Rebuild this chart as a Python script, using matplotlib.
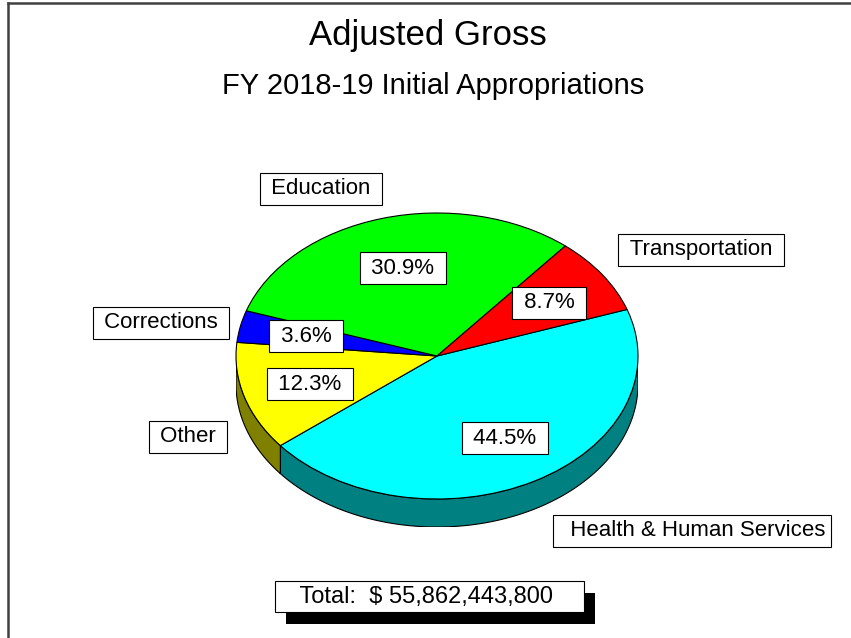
import numpy as np
import matplotlib
matplotlib.use("Agg")
import matplotlib.pyplot as plt
from matplotlib.patches import Rectangle

plt.rcParams['font.family'] = ['Liberation Sans', 'DejaVu Sans']

# data
categories = ['Health & Human Services', 'Other', 'Corrections', 'Education', 'Transportation']
shares = [44.5, 12.3, 3.6, 30.9, 8.7]
top_colors = ['#00FFFF', '#FFFF00', '#0000FF', '#00FF00', '#FF0000']
side_colors = ['#008080', '#808000', '#000080', '#008000', '#800000']
total = 55862443800

W, H = 851, 638
fig = plt.figure(figsize=(W / 100, H / 100), dpi=100)

# pie geometry in pixels (top ellipse bbox + depth)
px_left, px_right, px_top, px_bot = 236, 638, 213, 499
depth_px = 28
ry = (px_bot - px_top) / 2
d = depth_px / ry

axp = fig.add_axes([px_left / W, (H - px_bot - depth_px) / H,
                    (px_right - px_left) / W, (px_bot + depth_px - px_top) / H])
wedges, _ = axp.pie(shares, colors=top_colors, startangle=19, counterclock=False,
                    radius=1, center=(0, 0),
                    wedgeprops=dict(edgecolor='black', linewidth=0.8))
for w in wedges:
    w.set_zorder(3)

# side walls: only the front half (sin < 0) is visible
for w, sc in zip(wedges, side_colors):
    for lo, hi in [(-540, -360), (-180, 0), (180, 360)]:
        a, b = max(w.theta1, lo), min(w.theta2, hi)
        if b <= a:
            continue
        t = np.radians(np.linspace(a, b, 120))
        xs = np.concatenate([np.cos(t), np.cos(t[::-1])])
        ys = np.concatenate([np.sin(t), np.sin(t[::-1]) - d])
        axp.fill(xs, ys, facecolor=sc, edgecolor='black', linewidth=0.8, zorder=2)

axp.set_aspect('auto')
axp.set_xlim(-1, 1)
axp.set_ylim(-1 - d, 1)
axp.axis('off')

# overlay for text, in pixel coordinates
ax0 = fig.add_axes([0, 0, 1, 1])
ax0.set_xlim(0, W)
ax0.set_ylim(H, 0)
ax0.axis('off')

ax0.plot([7.5, 7.5], [2.5, H], color='#404040', lw=1.8, clip_on=False)
ax0.plot([7.5, W], [2.5, 2.5], color='#404040', lw=1.8, clip_on=False)

ax0.text(428, 35, 'Adjusted Gross', fontsize=25, ha='center', va='center')
ax0.text(433, 86, 'FY 2018-19 Initial Appropriations', fontsize=21, ha='center', va='center')

box = dict(boxstyle='square,pad=0.25', fc='white', ec='black', lw=0.8)

pct_pos = [(505, 438), (310, 384), (306, 336), (403, 268), (549, 303)]
for s, (x, y) in zip(shares, pct_pos):
    ax0.text(x, y, f' {s:.1f}% ', fontsize=16, ha='center', va='center', bbox=box)

cat_pos = [(692, 531), (188, 437), (161, 323), (321, 189), (701, 250)]
for c, (x, y) in zip(categories, cat_pos):
    lab = '  ' + c if c.startswith('Health') else ' ' + c + ' '
    ax0.text(x, y, lab, fontsize=16, ha='center', va='center', bbox=box)

# total box with a drop shadow
total_txt = '   Total:  $ {:,}    '.format(total)
tt = ax0.text(429.5, 596.5, total_txt, fontsize=17, ha='center', va='center', zorder=5,
              bbox=dict(boxstyle='square,pad=0.2', fc='white', ec='black', lw=0.8))
fig.canvas.draw()
bb = tt.get_bbox_patch().get_window_extent().transformed(ax0.transData.inverted())
x0, x1 = sorted([bb.x0, bb.x1])
y0, y1 = sorted([bb.y0, bb.y1])
ax0.add_patch(Rectangle((x0 + 11, y0 + 12), x1 - x0, y1 - y0, fc='black', ec='none', zorder=4))

fig.savefig('out.png', dpi=100)
